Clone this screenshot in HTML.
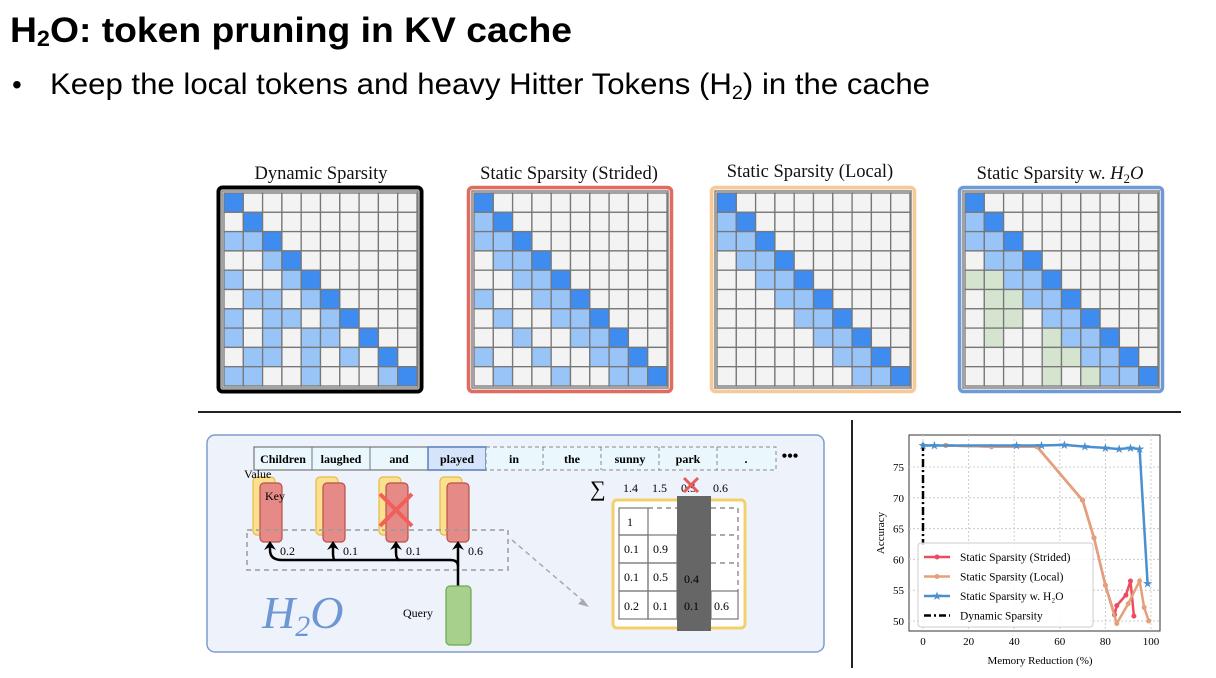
<!DOCTYPE html>
<html><head><meta charset="utf-8"><style>
html,body{margin:0;padding:0;background:#fff;width:1216px;height:678px;overflow:hidden}
svg{display:block}
.s{font-family:"Liberation Serif",serif}
</style></head><body>
<svg id="sv" width="1216" height="678" xmlns="http://www.w3.org/2000/svg">
<text x="10" y="42" font-family="Liberation Sans,sans-serif" font-weight="bold" font-size="35" fill="#000" textLength="562" lengthAdjust="spacingAndGlyphs">H<tspan font-size="22" dy="4">2</tspan><tspan dy="-4">O: token pruning in KV cache</tspan></text>
<text x="12" y="94" font-family="Liberation Sans,sans-serif" font-size="28" fill="#000">•</text>
<text x="50" y="94" font-family="Liberation Sans,sans-serif" font-size="30" fill="#000" textLength="880" lengthAdjust="spacingAndGlyphs">Keep the local tokens and heavy Hitter Tokens (H<tspan font-size="19" dy="5">2</tspan><tspan dy="-5">) in the cache</tspan></text>
<g class="s" font-size="18.5" fill="#111" text-anchor="middle">
<text x="321" y="179">Dynamic Sparsity</text>
<text x="569" y="179">Static Sparsity (Strided)</text>
<text x="810" y="177">Static Sparsity (Local)</text>
<text x="1060" y="179">Static Sparsity w. <tspan font-style="italic">H</tspan><tspan font-size="13" dy="4">2</tspan><tspan dy="-4" font-style="italic">O</tspan></text>
</g>
<g id="grids"></g>
<line x1="198" y1="412" x2="1181" y2="412" stroke="#222" stroke-width="2"/>
<line x1="852" y1="420" x2="852" y2="668" stroke="#222" stroke-width="2"/>
<rect x="207" y="435" width="617" height="217" rx="8" fill="#eef3fb" stroke="#7e9bd0" stroke-width="1.5"/>
<g class="s" font-size="12" font-weight="bold" text-anchor="middle">
<rect x="254" y="447" width="232" height="23" fill="#eaf7fc" stroke="#777" stroke-width="1.2"/>
<line x1="312" y1="447" x2="312" y2="470" stroke="#777"/>
<line x1="370" y1="447" x2="370" y2="470" stroke="#777"/>
<rect x="428" y="447" width="58" height="23" fill="#d5e4fa" stroke="#5a7fc0" stroke-width="1.5"/>
<rect x="486" y="447" width="290" height="23" fill="#eaf7fc" stroke="#888" stroke-dasharray="4,3"/>
<line x1="543" y1="447" x2="543" y2="470" stroke="#888" stroke-dasharray="4,3"/>
<line x1="601" y1="447" x2="601" y2="470" stroke="#888" stroke-dasharray="4,3"/>
<line x1="659" y1="447" x2="659" y2="470" stroke="#888" stroke-dasharray="4,3"/>
<line x1="717" y1="447" x2="717" y2="470" stroke="#888" stroke-dasharray="4,3"/>
<text x="283" y="463">Children</text><text x="341" y="463">laughed</text><text x="399" y="463">and</text><text x="457" y="463">played</text>
<text x="514" y="463">in</text><text x="572" y="463">the</text><text x="630" y="463">sunny</text><text x="688" y="463">park</text><text x="746" y="463">.</text>
<text x="790" y="461" font-size="16">•••</text>
</g>
<g id="keys"></g>
<rect x="247" y="530" width="261" height="40" fill="none" stroke="#999" stroke-width="1.5" stroke-dasharray="5,4"/>
<g stroke="#000" stroke-width="2.5" fill="none">
<path d="M458 586 V545"/>
<path d="M458 566 Q458 560 450 560 H282 Q270 560 270 550 V545"/>
<path d="M335 560 Q333 560 333 552 V545"/>
<path d="M400 560 Q396 560 396 552 V545"/>
</g>
<g fill="#000"><path d="M270 541 l-6 9 l6 -3 l6 3z"/><path d="M333 541 l-6 9 l6 -3 l6 3z"/><path d="M396 541 l-6 9 l6 -3 l6 3z"/><path d="M458 541 l-6 9 l6 -3 l6 3z"/></g>
<g class="s" font-size="12"><text x="280" y="555">0.2</text><text x="343" y="555">0.1</text><text x="406" y="555">0.1</text><text x="468" y="555">0.6</text>
<text x="244" y="478">Value</text><text x="265" y="500">Key</text><text x="403" y="617">Query</text></g>
<rect x="446" y="586" width="25" height="59" rx="4" fill="#a8d08d" stroke="#6aa84f" stroke-width="1.2"/>
<text x="262" y="628" class="s" font-style="italic" font-size="46" fill="#6e96d4">H<tspan font-size="30" dy="8">2</tspan><tspan dy="-8">O</tspan></text>
<line x1="512" y1="540" x2="582" y2="600" stroke="#aaa" stroke-width="1.5" stroke-dasharray="5,4"/>
<path d="M589 607 l-11 -3 l5 -5z" fill="#aaa"/>
<g class="s" font-size="12"><text x="590" y="496" font-size="22">∑</text><text x="623" y="492">1.4</text><text x="652" y="492">1.5</text><text x="681" y="492">0.5</text><text x="713" y="492">0.6</text></g>
<path d="M684 478 l14 14 M698 478 l-14 14" stroke="#e85a5a" stroke-width="3"/>
<rect x="613" y="500" width="132" height="128" rx="4" fill="#fff" stroke="#f5cf6a" stroke-width="3"/>
<g stroke="#777" stroke-width="1.2" fill="none">
<rect x="619" y="508" width="29" height="27"/>
<rect x="619" y="535" width="29" height="28"/><rect x="648" y="535" width="29" height="28"/>
<rect x="619" y="563" width="29" height="28"/><rect x="648" y="563" width="29" height="28"/>
<rect x="619" y="591" width="29" height="28"/><rect x="648" y="591" width="29" height="28"/><rect x="711" y="591" width="27" height="28"/>
<path d="M648 508 H738 V591 M711 535 H738 M711 563 H738" stroke-dasharray="5,4"/>
</g>
<rect x="677" y="496" width="34" height="135" fill="#666"/>
<g class="s" font-size="12"><text x="627" y="526">1</text><text x="624" y="553">0.1</text><text x="653" y="553">0.9</text>
<text x="624" y="581">0.1</text><text x="653" y="581">0.5</text><text x="684" y="583">0.4</text>
<text x="624" y="610">0.2</text><text x="653" y="610">0.1</text><text x="684" y="610">0.1</text><text x="714" y="610">0.6</text></g>
<g id="chart"></g>
</svg>
<script>
var NS="http://www.w3.org/2000/svg";
function el(p,t,a,txt){var e=document.createElementNS(NS,t);for(var k in a)e.setAttribute(k,a[k]);if(txt!=null)e.textContent=txt;p.appendChild(e);return e;}
var G=document.getElementById('grids');
var pats=[
["D.........",".D........","LLD.......","..LD......","L..LD.....",".LL.LD....","L.LL.LD...","L.L.LL.D..",".LL.L.L.D.","LL..L...LD"],
["D.........","LD........","LLD.......",".LLD......","..LLD.....","L..LLD....",".L..LLD...","..L..LLD..","L..L..LLD.",".L..L..LLD"],
["D.........","LD........","LLD.......",".LLD......","..LLD.....","...LLD....","....LLD...",".....LLD..","......LLD.",".......LLD"],
["D.........","LD........","LLD.......",".LLD......","GGLLD.....",".GGLLD....",".GG.LLD...",".G..GLLD..","....GGLLD.","....G.GLLD"]];
var xs=[217,467,710,958],cols=["#000","#e06b5e","#f8c896","#6f9ad8"];
var fill={D:"#3f8cf0",L:"#98c4f8",G:"#d4e4cf",".":"#f3f3f3"};
for(var g=0;g<4;g++){var x0=xs[g],y0=186;
el(G,'rect',{x:x0+1.5,y:y0+1.5,width:203,height:204,rx:4,fill:"#f3f3f3",stroke:cols[g],"stroke-width":g==0?4:3.5});
el(G,'rect',{x:x0+5,y:y0+5,width:196,height:197,fill:"none",stroke:"#888","stroke-width":1.5});
var cw=19.3;
for(var r=0;r<10;r++)for(var c=0;c<10;c++){el(G,'rect',{x:x0+7+c*cw,y:y0+7+r*cw,width:cw,height:cw,fill:fill[pats[g][r][c]],stroke:"#777","stroke-width":1.3});}}
var K=document.getElementById('keys');
[260,323,386,447].forEach(function(x,i){
el(K,'rect',{x:x-7,y:477,width:22,height:58,rx:4,fill:"#fbe08e",stroke:"#e6b94a","stroke-width":1.2});
el(K,'rect',{x:x,y:483,width:22,height:59,rx:4,fill:"#e58a86",stroke:"#b9504a","stroke-width":1.2});
if(i==2){el(K,'path',{d:"M"+(x-6)+" 494 l32 32 M"+(x+26)+" 494 l-32 32",stroke:"#f0605a","stroke-width":4});}
});
var C=document.getElementById('chart');
function px(v){return 923+2.28*v}function py(v){return 621-(v-50)*6.16}
el(C,'rect',{x:909,y:435,width:251,height:196,fill:"#fff",stroke:"#333","stroke-width":1});
[0,20,40,60,80,100].forEach(function(v){el(C,'line',{x1:px(v),y1:435,x2:px(v),y2:631,stroke:"#ccc","stroke-dasharray":"2,2"});el(C,'text',{x:px(v),y:645,"text-anchor":"middle","font-size":11,"font-family":"Liberation Serif,serif"},String(v));});
[50,55,60,65,70,75].forEach(function(v){el(C,'line',{x1:909,y1:py(v),x2:1160,y2:py(v),stroke:"#ccc","stroke-dasharray":"2,2"});el(C,'text',{x:904,y:py(v)+4,"text-anchor":"end","font-size":11,"font-family":"Liberation Serif,serif"},String(v));});
el(C,'text',{x:1040,y:664,"text-anchor":"middle","font-size":11,"font-family":"Liberation Serif,serif"},"Memory Reduction (%)");
el(C,'text',{x:0,y:0,transform:"translate(884,533) rotate(-90)","text-anchor":"middle","font-size":11,"font-family":"Liberation Serif,serif"},"Accuracy");
el(C,'line',{x1:923,y1:443,x2:923,y2:545,stroke:"#000","stroke-width":2.5,"stroke-dasharray":"8,3,2,3"});
function line(pts,col){var d=pts.map(function(p,i){return (i?'L':'M')+px(p[0])+' '+py(p[1])}).join(' ');el(C,'path',{d:d,fill:"none",stroke:col,"stroke-width":2.5});
pts.forEach(function(p){el(C,'circle',{cx:px(p[0]),cy:py(p[1]),r:2.5,fill:col});});}
line([[10,78.5],[30,78.3],[50,78.3],[70,69.6],[75,63.5],[80,55.8],[84,51],[85,52.5],[89,54.2],[91,56.5],[92.5,50.8]],"#ea4d5e");
line([[10,78.5],[30,78.3],[50,78.3],[70,69.6],[75,63.5],[80,55.8],[85,49.6],[90,52.8],[95,56.5],[97,52.2],[99,50]],"#e3a07a");
var bl=[[0,78.5],[5,78.5],[41,78.5],[52,78.5],[62,78.6],[71,78.3],[80,78.1],[86,77.9],[91,78.1],[95,77.9],[98.5,56.1]];
el(C,'path',{d:bl.map(function(p,i){return (i?'L':'M')+px(p[0])+' '+py(p[1])}).join(' '),fill:"none",stroke:"#4a90cf","stroke-width":2.5});
bl.forEach(function(p){el(C,'text',{x:px(p[0]),y:py(p[1])+4,"text-anchor":"middle","font-size":12,fill:"#4a90cf"},"★");});
el(C,'rect',{x:918,y:543,width:175,height:84,rx:3,fill:"#fff","fill-opacity":0.85,stroke:"#ccc"});
var L=[["#ea4d5e","Static Sparsity (Strided)"],["#e3a07a","Static Sparsity (Local)"],["#4a90cf","Static Sparsity w. H₂O"],["#000","Dynamic Sparsity"]];
L.forEach(function(l,i){var y=557+i*19.5;
el(C,'line',{x1:924,y1:y,x2:950,y2:y,stroke:l[0],"stroke-width":2.5,"stroke-dasharray":i==3?"7,3,2,3":"none"});
if(i<2)el(C,'circle',{cx:937,cy:y,r:2.5,fill:l[0]});if(i==2)el(C,'text',{x:937,y:y+4,"text-anchor":"middle","font-size":12,fill:l[0]},"★");
el(C,'text',{x:960,y:y+4,"font-size":11.5,"font-family":"Liberation Serif,serif"},l[1]);});
</script>
</body></html>
